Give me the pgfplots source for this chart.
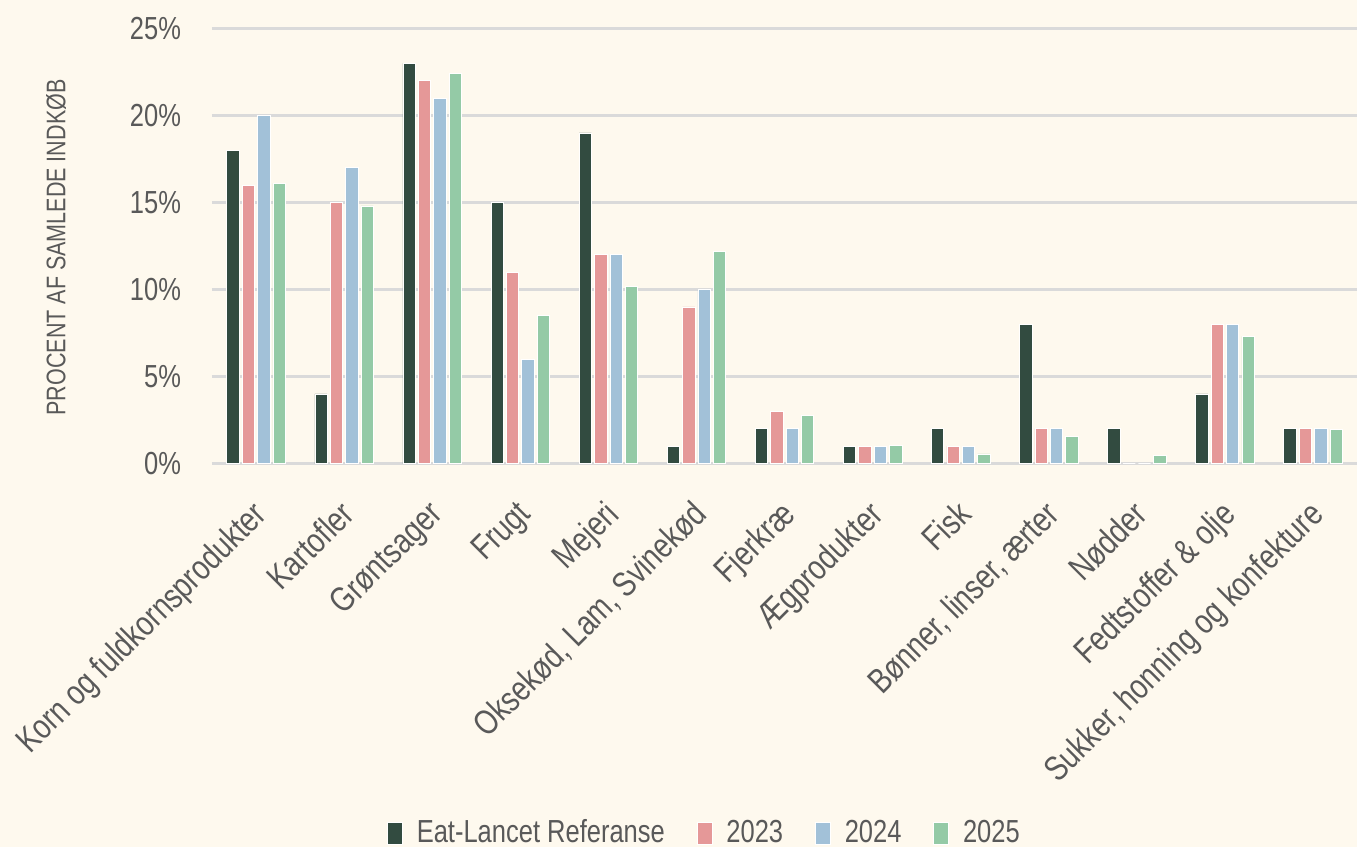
\documentclass[border=0pt]{standalone}
\usepackage{fontspec}
\setmainfont{Liberation Sans}[FakeStretch=0.8]
\usepackage{pgfplots}
\pgfplotsset{compat=1.18}
\usepackage{pgfplotstable}
\definecolor{bg}{HTML}{FEF9EE}
\definecolor{cE}{HTML}{324B40}
\definecolor{cA}{HTML}{E59898}
\definecolor{cB}{HTML}{A2C1D8}
\definecolor{cC}{HTML}{94CAA6}
\definecolor{txt}{HTML}{595959}
\definecolor{gridc}{HTML}{DADADA}
\pgfplotstableread{
x E A B C
0 18 16 20 16.1
1 4 15 17 14.8
2 23 22 21 22.4
3 15 11 6 8.5
4 19 12 12 10.2
5 1 9 10 12.2
6 2 3 2 2.75
7 1 1 1 1.05
8 2 1 1 0.55
9 8 2 2 1.55
10 2 0 0 0.45
11 4 8 8 7.3
12 2 2 2 1.95
}\data
\begin{document}
\begin{tikzpicture}
\fill[bg] (-106bp,-191.75bp) rectangle (572.5bp,231.75bp);
\begin{axis}[
  at={(0,0)}, anchor=south west,
  scale only axis, width=572.5bp, height=217.5bp,
  xmin=-0.5, xmax=12.5, ymin=0, ymax=25,
  axis line style={draw=none},
  axis x line*=bottom,
  axis y line*=left,
  ymajorgrids, grid style={gridc, line width=1.2pt},
  major tick length=0,
  ytick={0,5,10,15,20,25},
  yticklabels={0\%,5\%,10\%,15\%,20\%,25\%},
  xtick=data,
  xticklabels={Korn og fuldkornsprodukter,Kartofler,Grøntsager,Frugt,Mejeri,{Oksekød, Lam, Svinekød},Fjerkræ,Ægprodukter,Fisk,{Bønner, linser, ærter},Nødder,Fedtstoffer \& olje,{Sukker, honning og konfekture}},
  x tick label style={rotate=45, anchor=north east, font=\fontsize{17.5}{19}\selectfont, text=txt, xshift=-11bp, yshift=-7bp},
  y tick label style={font=\fontsize{16}{18}\selectfont, text=txt, xshift=-12bp},
  clip=false,
  bar width=0.14,
  ybar,
  legend style={at={(axis description cs:0.431,-0.849)}, anchor=center, draw=none, fill=none,
    legend columns=-1, font=\fontsize{16}{18}\selectfont, text=txt,
    /tikz/every odd column/.append style={column sep=5bp},
    /tikz/every even column/.append style={column sep=14bp}},
  legend image code/.code={\fill[#1] (0bp,-5.5bp) rectangle (7.5bp,5.5bp);},
]
\addplot[fill=cE, draw=white, line width=0.3pt, bar shift=-0.262] table[x=x,y=E]{\data};
\addplot[fill=cA, draw=white, line width=0.3pt, bar shift=-0.087] table[x=x,y=A]{\data};
\addplot[fill=cB, draw=white, line width=0.3pt, bar shift=0.087] table[x=x,y=B]{\data};
\addplot[fill=cC, draw=white, line width=0.3pt, bar shift=0.262] table[x=x,y=C]{\data};
\legend{Eat-Lancet Referanse,2023,2024,2025}
\end{axis}
\node[rotate=90, text=txt, font=\fontsize{13.5}{15}\selectfont] at (-78bp,108bp) {PROCENT AF SAMLEDE INDKØB};
\pgfresetboundingbox
\path (-106bp,-191.75bp) rectangle (572.5bp,231.75bp);
\end{tikzpicture}
\end{document}
